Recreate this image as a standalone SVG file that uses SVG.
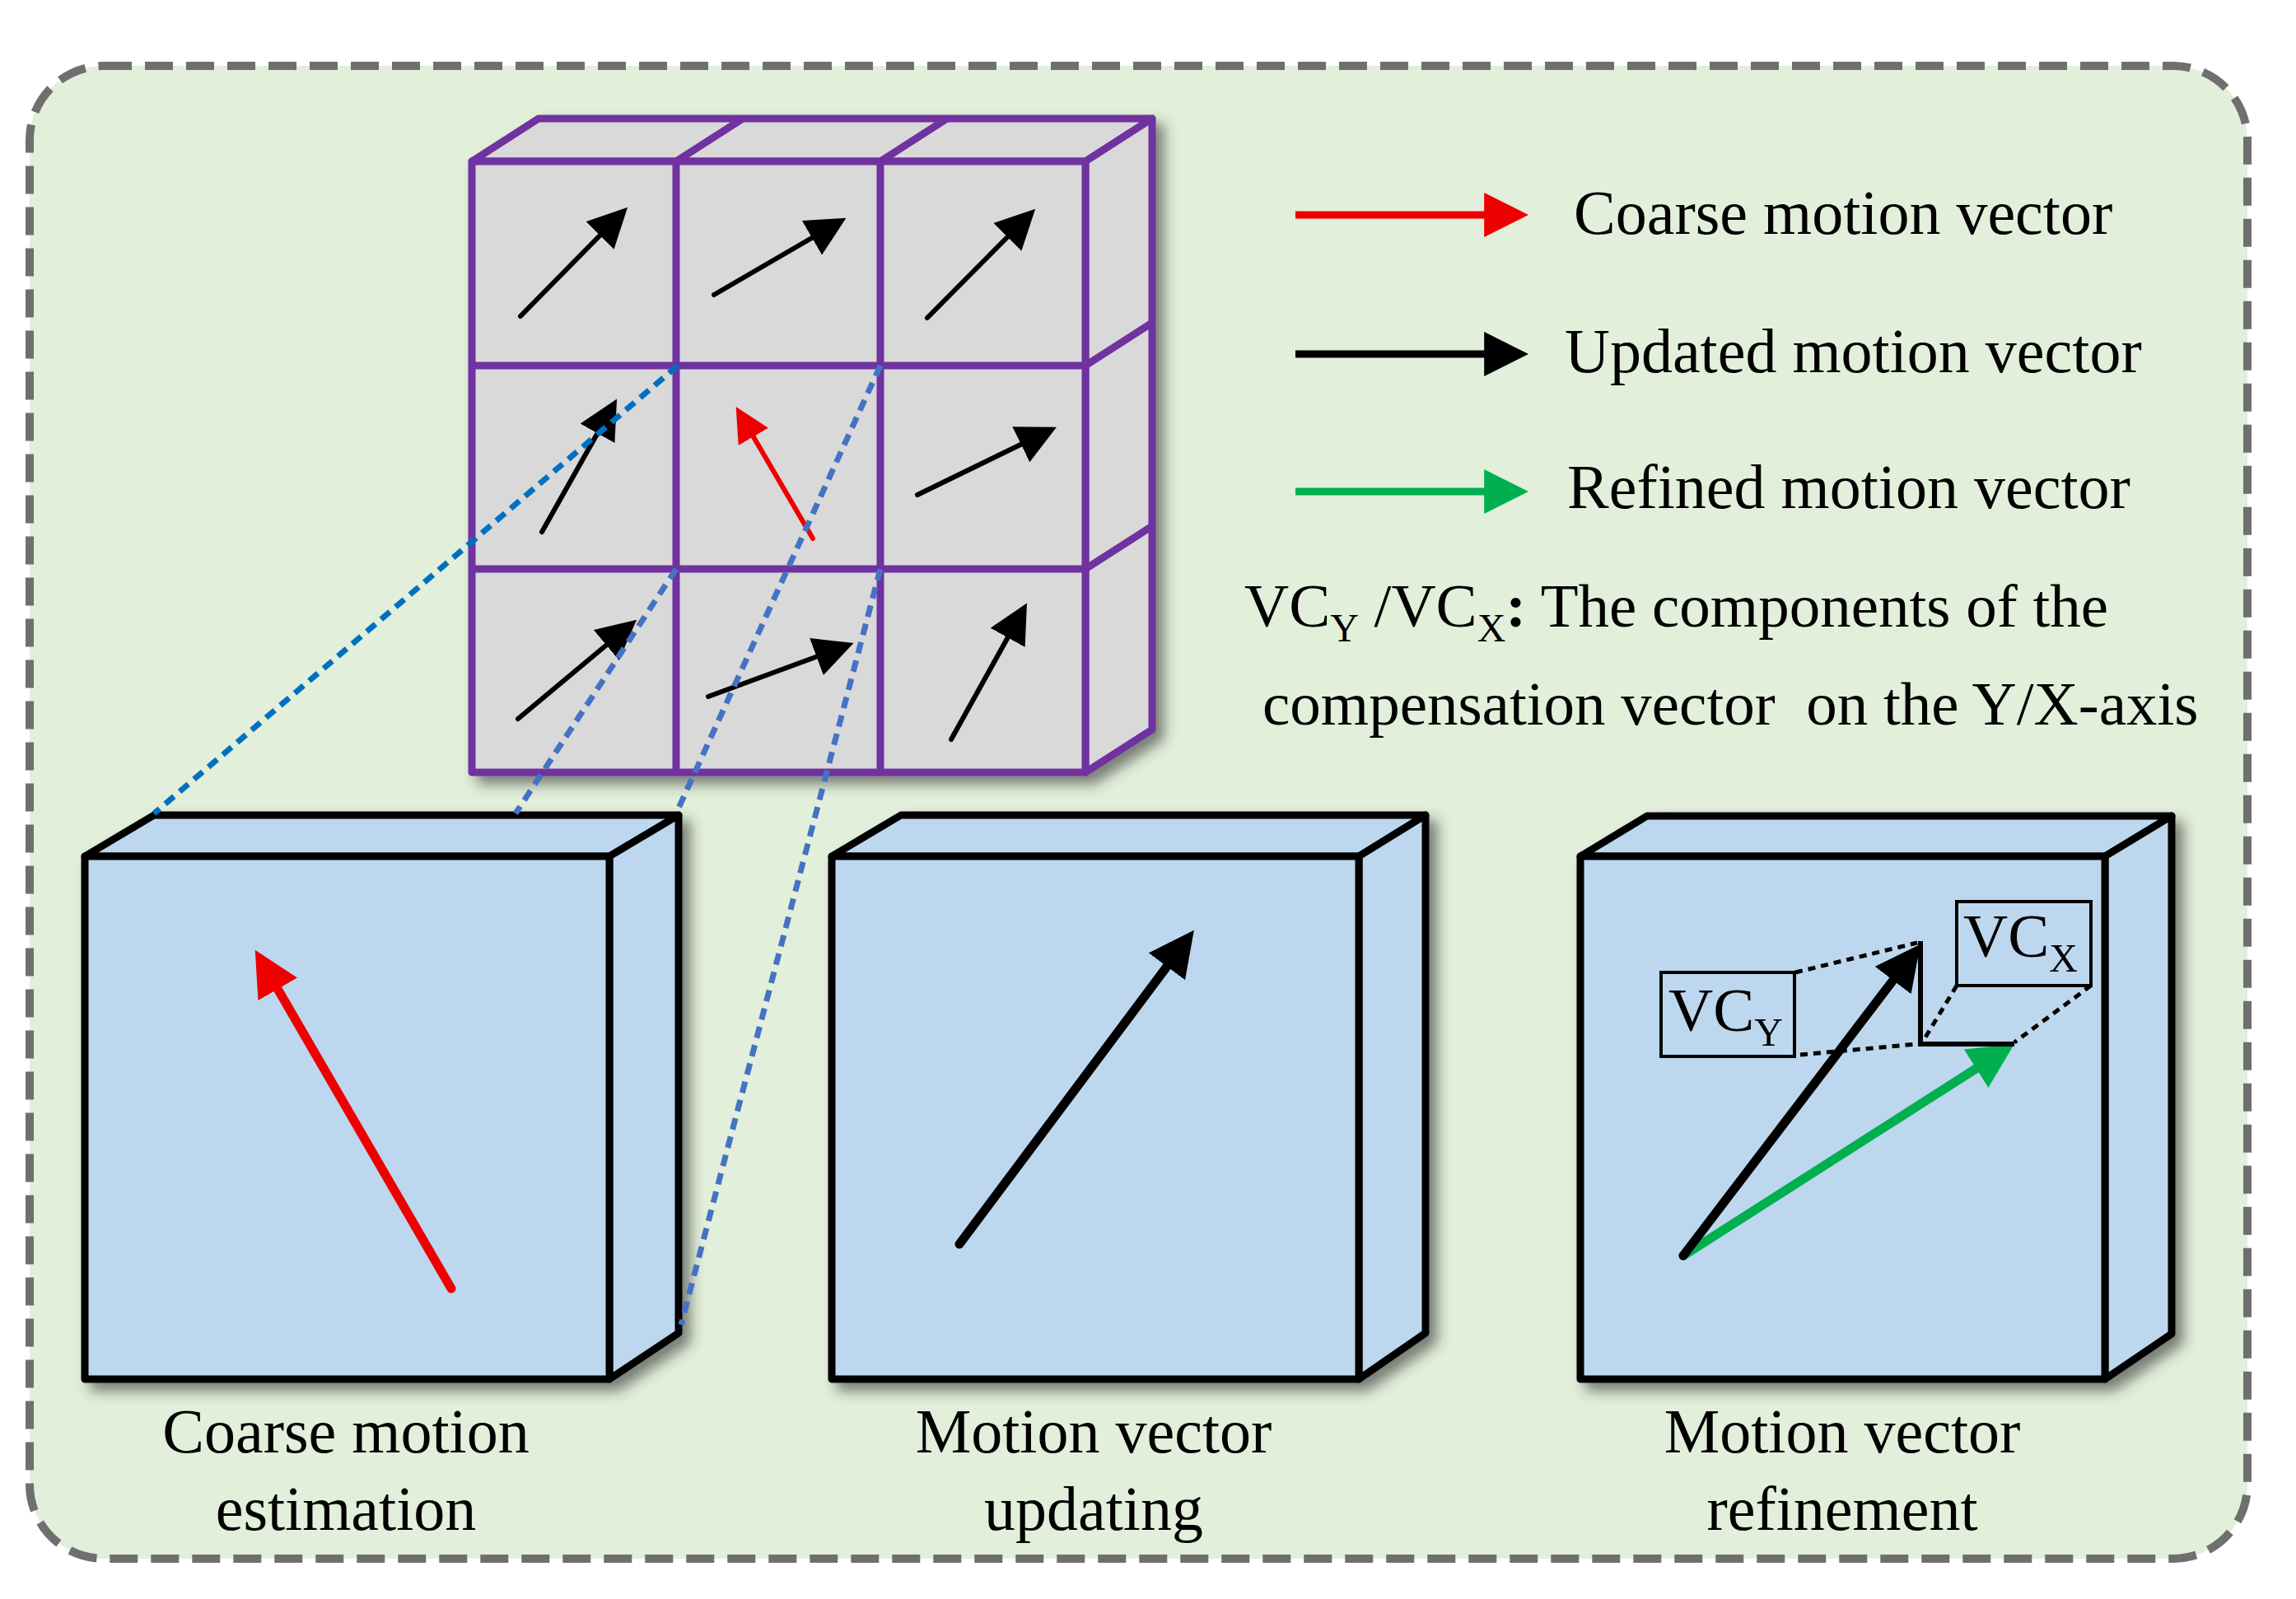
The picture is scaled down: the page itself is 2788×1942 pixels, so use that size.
<svg xmlns="http://www.w3.org/2000/svg" width="2788" height="1942" viewBox="0 0 2788 1942">
<defs>
<style>
.t{font-family:"Liberation Serif",serif;font-size:75px;fill:#000}
.lb{font-size:76px}
.lg{font-size:76px}
.box{fill:#BDD7EE;stroke:#000;stroke-width:9;stroke-linejoin:round}
.cell{fill:#D9D9D9;stroke:#7030A0;stroke-width:9;stroke-linejoin:round}
.bl{stroke:#000;fill:none;stroke-linecap:round}
.dot{stroke:#000;stroke-width:5;stroke-dasharray:9 7;fill:none}
</style>
<filter id="sh" x="-10%" y="-10%" width="130%" height="130%"><feDropShadow dx="10" dy="10" stdDeviation="8" flood-color="#333" flood-opacity="0.6"/></filter>
<marker id="ak" viewBox="0 0 10 10" refX="7" refY="5" markerWidth="5" markerHeight="5" orient="auto" markerUnits="strokeWidth"><path d="M0,0L10,5L0,10z" fill="#000"/></marker>
<marker id="akt" viewBox="0 0 10 10" refX="7" refY="5" markerWidth="8" markerHeight="8" orient="auto" markerUnits="strokeWidth"><path d="M0,0L10,5L0,10z" fill="#000"/></marker>
<marker id="art" viewBox="0 0 10 10" refX="7" refY="5" markerWidth="7" markerHeight="7" orient="auto" markerUnits="strokeWidth"><path d="M0,0L10,5L0,10z" fill="#E00"/></marker>
<marker id="ar" viewBox="0 0 10 10" refX="7" refY="5" markerWidth="5" markerHeight="5" orient="auto" markerUnits="strokeWidth"><path d="M0,0L10,5L0,10z" fill="#E00"/></marker>
<marker id="ag" viewBox="0 0 10 10" refX="7" refY="5" markerWidth="5" markerHeight="5" orient="auto" markerUnits="strokeWidth"><path d="M0,0L10,5L0,10z" fill="#00B050"/></marker>
<marker id="akl" viewBox="0 0 10 10" refX="7" refY="5" markerWidth="6" markerHeight="6" orient="auto" markerUnits="strokeWidth"><path d="M0,0L10,5L0,10z" fill="#000"/></marker>
<marker id="arl" viewBox="0 0 10 10" refX="7" refY="5" markerWidth="6" markerHeight="6" orient="auto" markerUnits="strokeWidth"><path d="M0,0L10,5L0,10z" fill="#E00"/></marker>
<marker id="agl" viewBox="0 0 10 10" refX="7" refY="5" markerWidth="6" markerHeight="6" orient="auto" markerUnits="strokeWidth"><path d="M0,0L10,5L0,10z" fill="#00B050"/></marker>
</defs>
<rect x="36" y="80" width="2693" height="1813" rx="90" fill="#E2EFDA" stroke="#6F6F6F" stroke-width="10" stroke-dasharray="34 16"/>

<g id="grid" filter="url(#sh)">
<polygon class="cell" points="573,196 654,144 1399,144 1318,196"/>
<polygon class="cell" points="1318,196 1399,144 1399,886 1318,938"/>
<rect class="cell" x="573" y="196" width="745" height="742"/>
<path d="M821,196L902,144M1069,196L1150,144M1318,444L1399,392M1318,691L1399,639M821,196V938M1069,196V938M573,444H1318M573,691H1318" stroke="#7030A0" stroke-width="9" fill="none"/>
<g class="bl" stroke-width="6">
<line x1="632" y1="384" x2="752" y2="262" marker-end="url(#akt)"/>
<line x1="867" y1="358" x2="1015" y2="272" marker-end="url(#akt)"/>
<line x1="1126" y1="386" x2="1247" y2="264" marker-end="url(#akt)"/>
<line x1="658" y1="646" x2="742" y2="497" marker-end="url(#akt)"/>
<line x1="1114" y1="601" x2="1270" y2="525" marker-end="url(#akt)"/>
<line x1="629" y1="873" x2="762" y2="762" marker-end="url(#akt)"/>
<line x1="860" y1="846" x2="1023" y2="786" marker-end="url(#akt)"/>
<line x1="1155" y1="898" x2="1240" y2="745" marker-end="url(#akt)"/>
</g>
<line x1="987" y1="654" x2="900" y2="505" stroke="#E00" stroke-width="6" stroke-linecap="round" marker-end="url(#art)"/>
</g>

<g id="box1" filter="url(#sh)">
<polygon class="box" points="103,1040 187,990 824,990 740,1040"/>
<polygon class="box" points="740,1040 824,990 824,1619 740,1675"/>
<rect class="box" x="103" y="1040" width="637" height="635"/>
<line x1="548" y1="1565" x2="318" y2="1168" stroke="#E00" stroke-width="11" stroke-linecap="round" marker-end="url(#ar)"/>
</g>
<g id="box2" filter="url(#sh)">
<polygon class="box" points="1010,1040 1094,990 1731,990 1650,1040"/>
<polygon class="box" points="1650,1040 1731,990 1731,1619 1650,1675"/>
<rect class="box" x="1010" y="1040" width="640" height="635"/>
<line x1="1165" y1="1511" x2="1440" y2="1143" stroke="#000" stroke-width="11" stroke-linecap="round" marker-end="url(#ak)"/>
</g>
<g id="box3" filter="url(#sh)">
<polygon class="box" points="1919,1040 2000,991 2637,991 2556,1040"/>
<polygon class="box" points="2556,1040 2637,991 2637,1620 2556,1675"/>
<rect class="box" x="1919" y="1040" width="637" height="635"/>
<line x1="2044" y1="1525" x2="2432" y2="1277" stroke="#00B050" stroke-width="11" stroke-linecap="round" marker-end="url(#ag)"/>
<line x1="2044" y1="1525" x2="2322" y2="1160" stroke="#000" stroke-width="11" stroke-linecap="round" marker-end="url(#ak)"/>
<path d="M2332,1143V1268H2446" stroke="#000" stroke-width="6" fill="none"/>
<path class="dot" d="M2180,1181L2328,1145M2186,1281L2328,1268M2376,1197L2336,1263M2539,1197L2446,1266"/>
<rect x="2017" y="1181" width="162" height="102" fill="none" stroke="#000" stroke-width="4"/>
<rect x="2376" y="1095" width="163" height="102" fill="none" stroke="#000" stroke-width="4"/>
<text class="t" x="2026" y="1252">VC<tspan font-size="48" dy="18">Y</tspan></text>
<text class="t" x="2384" y="1162">VC<tspan font-size="48" dy="18">X</tspan></text>
</g>

<g id="connectors" stroke-width="7" stroke-dasharray="14 9" fill="none">
<line x1="823" y1="444" x2="187" y2="988" stroke="#0070C0"/>
<line x1="821" y1="691" x2="626" y2="988" stroke="#4472C4"/>
<line x1="1069" y1="444" x2="821" y2="988" stroke="#4472C4"/>
<line x1="1069" y1="691" x2="827" y2="1609" stroke="#4472C4"/>
</g>

<g id="legend">
<line x1="1573" y1="261" x2="1840" y2="261" stroke="#E00" stroke-width="9" marker-end="url(#arl)"/>
<line x1="1573" y1="430" x2="1840" y2="430" stroke="#000" stroke-width="9" marker-end="url(#akl)"/>
<line x1="1573" y1="597" x2="1840" y2="597" stroke="#00B050" stroke-width="9" marker-end="url(#agl)"/>
<text class="t lg" x="1911" y="284">Coarse motion vector</text>
<text class="t lg" x="1900" y="452">Updated motion vector</text>
<text class="t lg" x="1903" y="617">Refined motion vector</text>
<text class="t" x="1511" y="761">VC<tspan font-size="48" dy="18">Y</tspan><tspan dy="-18"> /VC</tspan><tspan font-size="48" dy="18">X</tspan><tspan dy="-18" font-weight="bold">:</tspan> The components of the</text>
<text class="t" x="1533" y="880" xml:space="preserve">compensation vector  on the Y/X-axis</text>
</g>
<g id="labels">
<text class="t lb" x="420" y="1764" text-anchor="middle">Coarse motion</text>
<text class="t lb" x="420" y="1858" text-anchor="middle">estimation</text>
<text class="t lb" x="1328" y="1764" text-anchor="middle">Motion vector</text>
<text class="t lb" x="1328" y="1858" text-anchor="middle">updating</text>
<text class="t lb" x="2237" y="1764" text-anchor="middle">Motion vector</text>
<text class="t lb" x="2237" y="1858" text-anchor="middle">refinement</text>
</g>
</svg>
